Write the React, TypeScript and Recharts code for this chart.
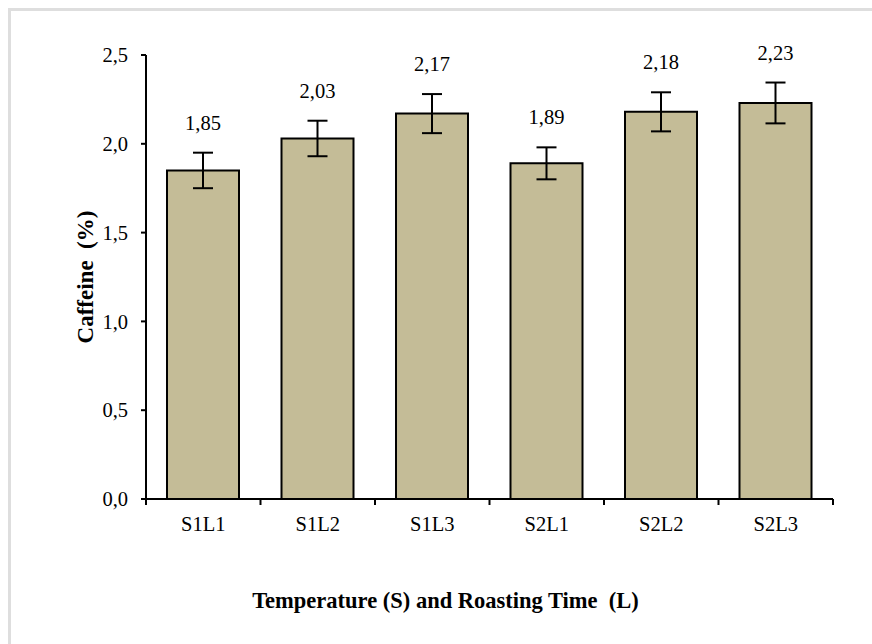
import React from 'react';
import { BarChart, Bar, XAxis, YAxis, ErrorBar, LabelList, Label } from 'recharts';

const categories = ['S1L1', 'S1L2', 'S1L3', 'S2L1', 'S2L2', 'S2L3'];
const caffeine = [1.85, 2.03, 2.17, 1.89, 2.18, 2.23];
const errors = [0.1, 0.1, 0.11, 0.09, 0.11, 0.115];
const yTicks = [0, 0.5, 1, 1.5, 2, 2.5];

const data = categories.map((name, i) => ({ name, value: caffeine[i], err: errors[i] }));

const FONT = '"Liberation Serif", "Times New Roman", serif';
const comma = (v: number, d: number) => v.toFixed(d).replace('.', ',');
const TICK_SIZE = 6;
const TICK_MARGIN = 11;

const ValueLabel = (props: any) => {
  const { x, y, width, height, value, index } = props;
  const errPx = (errors[index] * height) / value;
  return (
    <text
      x={x + width / 2}
      y={y - errPx - 30}
      textAnchor="middle"
      dominantBaseline="central"
      fontFamily={FONT}
      fontSize={20.5}
      fill="#000"
    >
      {comma(value, 2)}
    </text>
  );
};

// category label plus tick marks on the band edges (Excel style)
const CatTick = (props: any) => {
  const { x, y, payload, index, visibleTicksCount } = props;
  const half = payload && payload.offset ? payload.offset : 57.25;
  const top = y - TICK_SIZE - TICK_MARGIN;
  const last = index === visibleTicksCount - 1;
  return (
    <g>
      <line x1={x - half} x2={x - half} y1={top} y2={top + TICK_SIZE} stroke="#000" strokeWidth={2} />
      {last && <line x1={x + half} x2={x + half} y1={top} y2={top + TICK_SIZE} stroke="#000" strokeWidth={2} />}
      <text x={x} y={y} dy="0.71em" textAnchor="middle" fontFamily={FONT} fontSize={20.5} fill="#000">
        {payload.value}
      </text>
    </g>
  );
};

export default function App() {
  return (
    <div
      style={{
        position: 'absolute',
        left: 8,
        top: 8,
        width: 861,
        height: 633,
        borderLeft: '3px solid #dedede',
        borderTop: '3px solid #dedede',
        background: '#fff',
      }}
    >
      <BarChart
        width={861}
        height={633}
        data={data}
        margin={{ top: 44, right: 39, left: 0, bottom: 35 }}
        barCategoryGap={0}
      >
        <XAxis
          dataKey="name"
          height={110}
          axisLine={{ stroke: '#000', strokeWidth: 2 }}
          tickLine={false}
          tickSize={TICK_SIZE}
          tickMargin={TICK_MARGIN}
          interval={0}
          tick={<CatTick />}
        >
          <Label
            content={(p: any) => (
              <text
                x={p.viewBox.x + p.viewBox.width / 2 - 44}
                y={p.viewBox.y + 101}
                textAnchor="middle"
                dominantBaseline="central"
                fontFamily={FONT}
                fontSize={22.5}
                fontWeight="bold"
                fill="#000"
                style={{ whiteSpace: 'pre' }}
              >
                {'Temperature (S) and Roasting Time  (L)'}
              </text>
            )}
          />
        </XAxis>
        <YAxis
          width={135}
          domain={[0, 2.5]}
          ticks={yTicks}
          interval={0}
          tickSize={5}
          tickMargin={13}
          tickFormatter={(v: number) => comma(v, 1)}
          tick={{ fontFamily: FONT, fontSize: 20.5, fill: '#000' }}
          axisLine={{ stroke: '#000', strokeWidth: 2 }}
          tickLine={{ stroke: '#000', strokeWidth: 2 }}
        >
          <Label
            content={(p: any) => (
              <text
                x={74}
                y={p.viewBox.y + p.viewBox.height / 2}
                transform={`rotate(-90, 74, ${p.viewBox.y + p.viewBox.height / 2})`}
                textAnchor="middle"
                dominantBaseline="central"
                fontFamily={FONT}
                fontSize={23}
                fontWeight="bold"
                fill="#000"
                style={{ whiteSpace: 'pre' }}
              >
                {'Caffeine  (%)'}
              </text>
            )}
          />
        </YAxis>
        <Bar
          dataKey="value"
          barSize={72}
          fill="#c4bc97"
          stroke="#000"
          strokeWidth={2}
          isAnimationActive={false}
        >
          <ErrorBar dataKey="err" width={10} stroke="#000" strokeWidth={2} />
          <LabelList dataKey="value" content={ValueLabel} />
        </Bar>
      </BarChart>
    </div>
  );
}
